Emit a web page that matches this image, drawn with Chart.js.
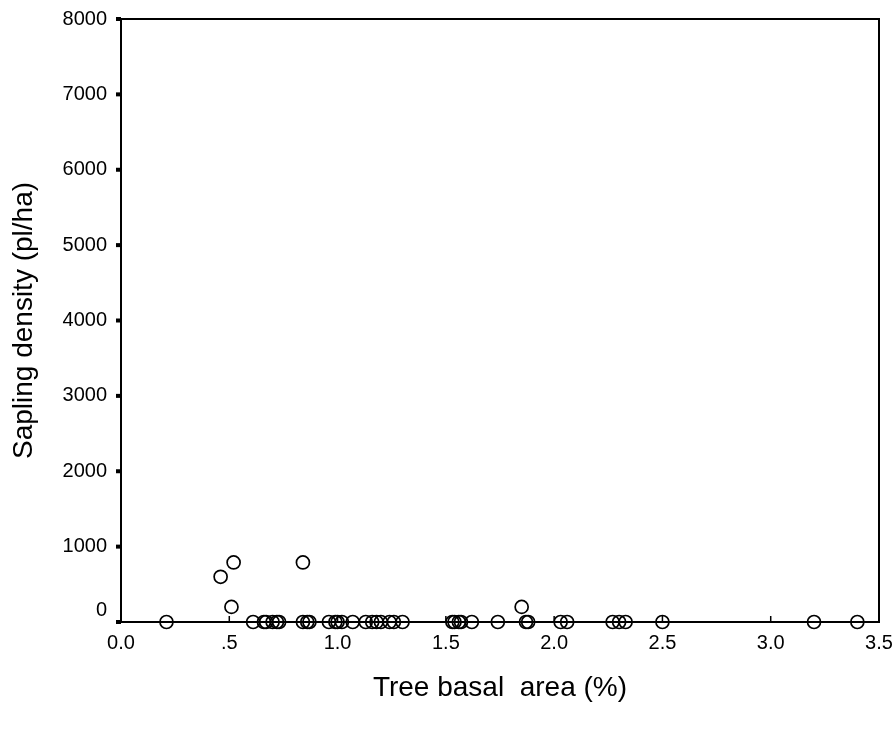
<!DOCTYPE html>
<html>
<head>
<meta charset="utf-8">
<script src="https://cdn.jsdelivr.net/npm/chart.js@4.4.1/dist/chart.umd.min.js"></script>
<style>
  html, body { margin: 0; padding: 0; background: #fff; }
  #wrap { width: 896px; height: 731px; }
</style>
</head>
<body>
<div id="wrap"><canvas id="scatter"></canvas></div>
<script>
// Tree basal area (%) for plots with no saplings
const zeroBasal = [0.21, 0.61, 0.66, 0.67, 0.70, 0.72, 0.73, 0.84, 0.86, 0.87,
    0.96, 0.99, 1.00, 1.02, 1.07, 1.13, 1.16, 1.18, 1.20, 1.24, 1.26, 1.30,
    1.53, 1.54, 1.56, 1.57, 1.62, 1.74, 1.87, 1.88, 2.03, 2.06, 2.27, 2.30,
    2.33, 2.50, 3.20, 3.40];
// plots with saplings
const saplingBasal = [0.46, 0.52, 0.51, 0.84, 1.85];
const saplingDensity = [600, 790, 200, 790, 200];

const xTicks = [0, 0.5, 1, 1.5, 2, 2.5, 3, 3.5];
const yTicks = [0, 1000, 2000, 3000, 4000, 5000, 6000, 7000, 8000];

const points = zeroBasal.map(x => ({ x: x, y: 0 }))
    .concat(saplingBasal.map((x, i) => ({ x: x, y: saplingDensity[i] })));

function xLabel(v) {
    let s = v.toFixed(1);
    if (v > 0 && v < 1) s = s.substring(1);
    return s;
}

const FONT = "'Liberation Sans', Arial, sans-serif";

// box, tick marks, y labels and titles
const frame = {
    id: "frame",
    afterDraw(chart) {
        const ctx = chart.ctx;
        const a = chart.chartArea;
        const xs = chart.scales.x, ys = chart.scales.y;
        ctx.save();
        ctx.strokeStyle = "#000";
        ctx.lineWidth = 2;
        ctx.strokeRect(a.left, a.top, a.right - a.left, a.bottom - a.top);

        ctx.fillStyle = "#000";
        yTicks.forEach(v => {
            const y = ys.getPixelForValue(v);
            ctx.fillRect(a.left - 5, y - 2, 5, 4);
        });
        ctx.lineWidth = 1.5;
        xTicks.forEach(v => {
            const x = xs.getPixelForValue(v);
            ctx.beginPath();
            ctx.moveTo(x, a.bottom);
            ctx.lineTo(x, a.bottom - 6);
            ctx.stroke();
        });

        ctx.font = "20px " + FONT;
        ctx.textAlign = "right";
        ctx.textBaseline = "middle";
        yTicks.forEach(v => {
            let y = ys.getPixelForValue(v);
            if (v === 0) y -= 12;
            ctx.fillText(String(v), a.left - 14, y);
        });

        ctx.font = "28px " + FONT;
        ctx.textAlign = "center";
        ctx.fillText("Tree basal  area (%)", (a.left + a.right) / 2, 688);
        ctx.translate(24, (a.top + a.bottom) / 2);
        ctx.rotate(-Math.PI / 2);
        ctx.fillText("Sapling density (pl/ha)", 0, 0);
        ctx.restore();
    }
};

new Chart(document.getElementById("scatter"), {
    type: "scatter",
    data: {
        datasets: [{
            label: "Plots",
            data: points,
            pointStyle: "circle",
            pointRadius: 6.5,
            pointHoverRadius: 6.5,
            borderColor: "#000",
            borderWidth: 1.7,
            backgroundColor: "rgba(0,0,0,0)",
            clip: false
        }]
    },
    options: {
        responsive: true,
        maintainAspectRatio: false,
        animation: false,
        layout: { padding: { top: 19, right: 17, left: 0, bottom: 0 } },
        plugins: { legend: { display: false }, tooltip: { enabled: false } },
        scales: {
            x: {
                type: "linear",
                min: 0, max: 3.5,
                afterBuildTicks: s => { s.ticks = xTicks.map(v => ({ value: v })); },
                afterFit: s => { s.height = 109; },
                grid: { display: false },
                border: { display: false },
                ticks: {
                    color: "#000",
                    padding: 1,
                    maxRotation: 0,
                    font: { family: FONT, size: 20 },
                    callback: v => xLabel(v)
                }
            },
            y: {
                type: "linear",
                min: 0, max: 8000,
                afterBuildTicks: s => { s.ticks = yTicks.map(v => ({ value: v })); },
                afterFit: s => { s.width = 121; },
                grid: { display: false },
                border: { display: false },
                ticks: { display: false }
            }
        }
    },
    plugins: [frame]
});
</script>
</body>
</html>
